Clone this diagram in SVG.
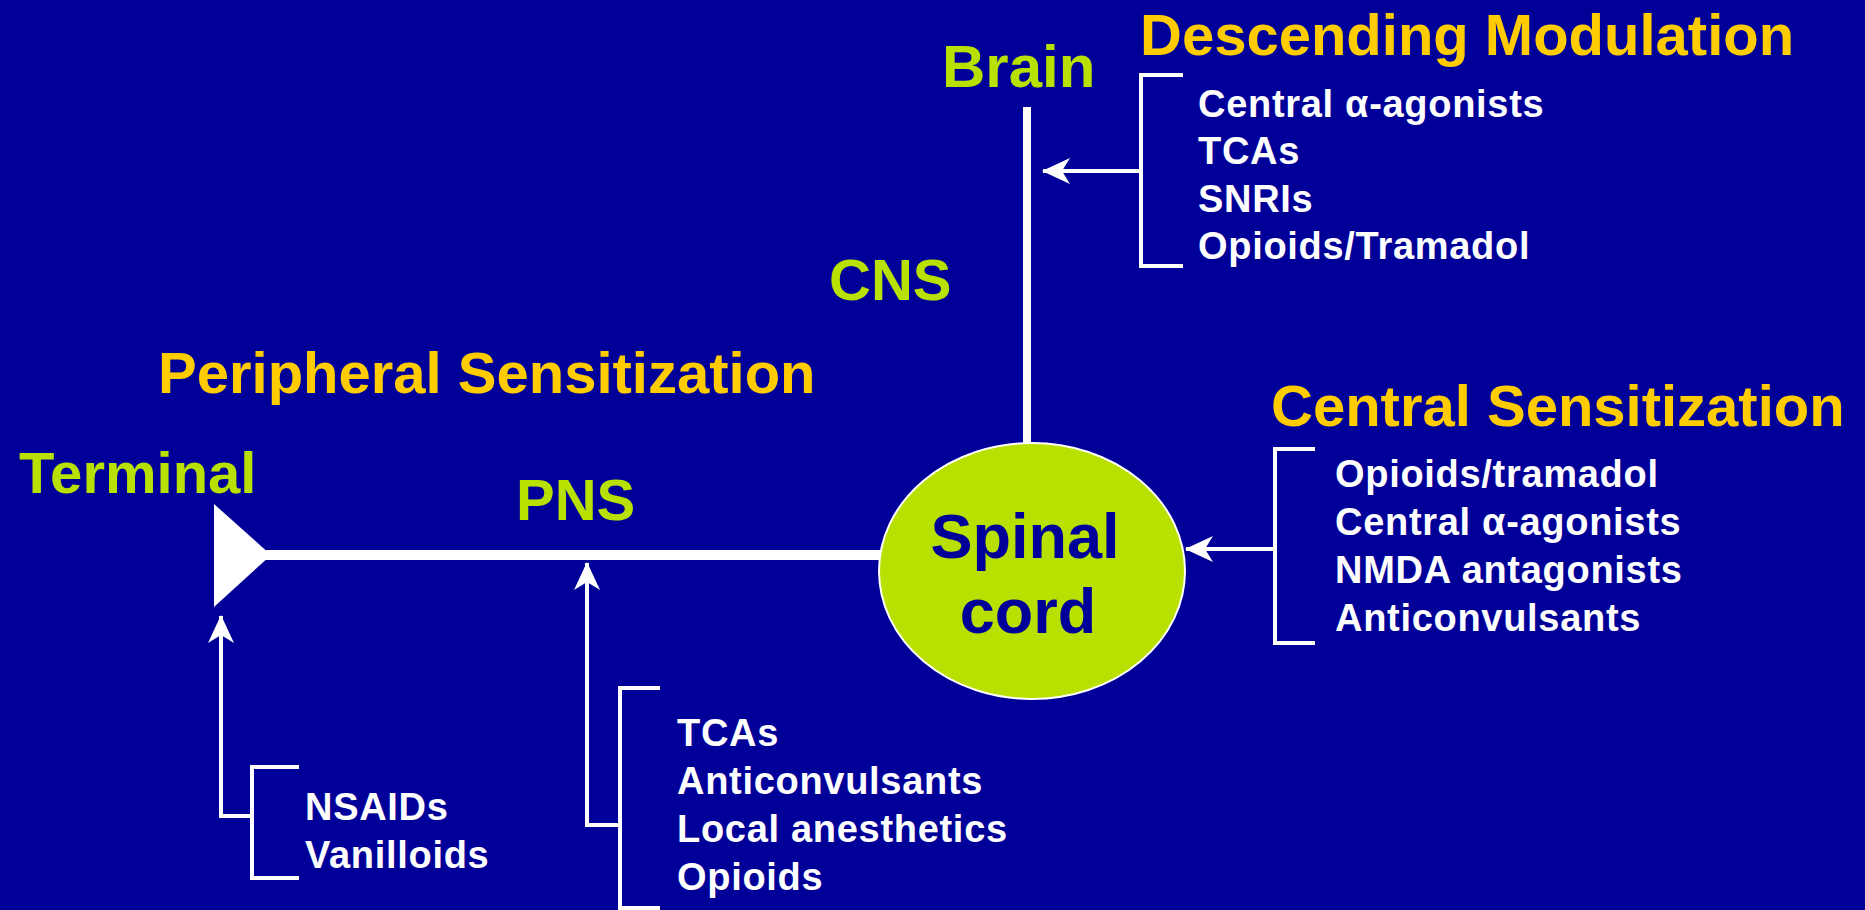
<svg xmlns="http://www.w3.org/2000/svg" width="1865" height="910" viewBox="0 0 1865 910">
  <defs>
    <style>
      .title { font-family: "Liberation Sans", Arial, sans-serif; font-weight: bold; font-size: 58px; }
      .green { fill: #b8e000; }
      .gold { fill: #ffcc00; }
      .item { font-family: "Liberation Sans", Arial, sans-serif; font-weight: bold; font-size: 38px; letter-spacing: 0.7px; fill: #ffffff; }
      .spinal { font-family: "Liberation Sans", Arial, sans-serif; font-weight: bold; font-size: 63px; fill: #000099; text-anchor: middle; }
      .bracket { fill: none; stroke: #ffffff; stroke-width: 4; }
      .arrow { fill: none; stroke: #ffffff; stroke-width: 4; marker-end: url(#head); }
    </style>
    <marker id="head" viewBox="0 0 28 26" refX="27" refY="13" markerWidth="28" markerHeight="26" markerUnits="userSpaceOnUse" orient="auto">
      <path d="M28,13 L0,0 L8,13 L0,26 Z" fill="#ffffff"/>
    </marker>
  </defs>
  <rect x="0" y="0" width="1865" height="910" fill="#000099"/>

  <g id="connectors">
    <line x1="1027" y1="107" x2="1027" y2="445" stroke="#ffffff" stroke-width="8"/>
    <line x1="266" y1="555" x2="882" y2="555" stroke="#ffffff" stroke-width="10"/>
    <polygon points="214,504 214,607 271,555" fill="#ffffff"/>
    <path class="arrow" d="M1141,171 H1043"/>
    <path class="arrow" d="M1275,549 H1186"/>
    <path class="arrow" d="M252,816 H221 V616"/>
    <path class="arrow" d="M620,825 H587 V563"/>
  </g>

  <g id="brain">
    <text class="title green" x="942" y="87" style="font-size:60px">Brain</text>
  </g>
  <g id="cns">
    <text class="title green" x="829" y="300">CNS</text>
  </g>
  <g id="terminal">
    <text class="title green" x="19" y="493">Terminal</text>
  </g>
  <g id="pns">
    <text class="title green" x="516" y="520">PNS</text>
  </g>
  <g id="peripheral-sensitization">
    <text class="title gold" x="158" y="393">Peripheral Sensitization</text>
  </g>

  <g id="spinal-cord">
    <ellipse cx="1032" cy="571" rx="153" ry="128" fill="#b8e000" stroke="#ffffff" stroke-width="2"/>
    <text class="spinal" x="1025" y="558">Spinal</text>
    <text class="spinal" x="1028" y="633">cord</text>
  </g>

  <g id="descending-modulation">
    <text class="title gold" x="1140" y="55">Descending Modulation</text>
    <path class="bracket" d="M1183,75 H1141 V266 H1183"/>
    <text class="item" x="1198" y="117">Central α-agonists</text>
    <text class="item" x="1198" y="164">TCAs</text>
    <text class="item" x="1198" y="212">SNRIs</text>
    <text class="item" x="1198" y="259">Opioids/Tramadol</text>
  </g>

  <g id="central-sensitization">
    <text class="title gold" x="1271" y="426">Central Sensitization</text>
    <path class="bracket" d="M1315,449 H1275 V643 H1315"/>
    <text class="item" x="1335" y="487">Opioids/tramadol</text>
    <text class="item" x="1335" y="535">Central α-agonists</text>
    <text class="item" x="1335" y="583">NMDA antagonists</text>
    <text class="item" x="1335" y="631">Anticonvulsants</text>
  </g>

  <g id="terminal-drugs">
    <path class="bracket" d="M299,767 H252 V878 H299"/>
    <text class="item" x="305" y="820">NSAIDs</text>
    <text class="item" x="305" y="868">Vanilloids</text>
  </g>

  <g id="pns-drugs">
    <path class="bracket" d="M660,688 H620 V908 H660"/>
    <text class="item" x="677" y="746">TCAs</text>
    <text class="item" x="677" y="794">Anticonvulsants</text>
    <text class="item" x="677" y="842">Local anesthetics</text>
    <text class="item" x="677" y="890">Opioids</text>
  </g>
</svg>
